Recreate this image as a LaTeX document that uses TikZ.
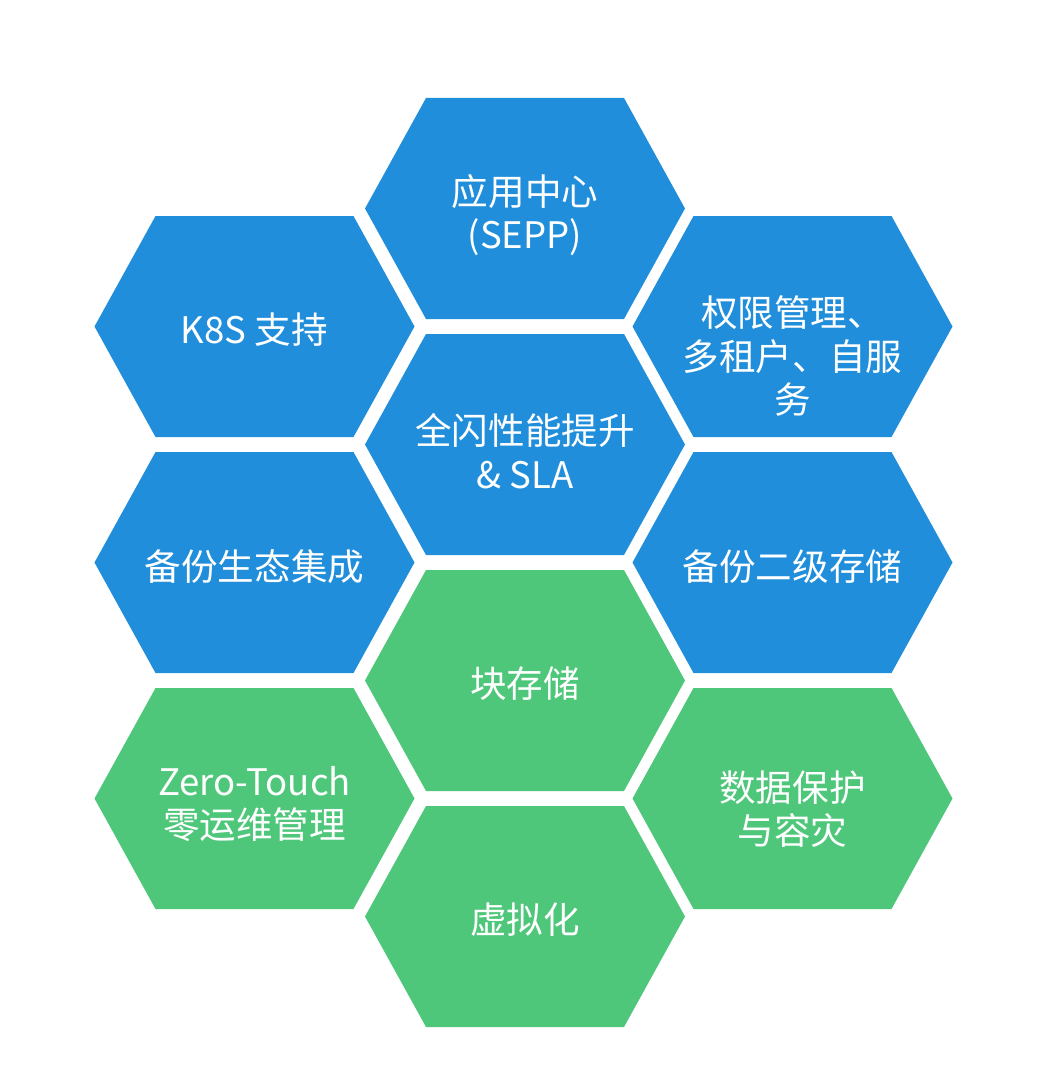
\documentclass[tikz,border=0pt]{standalone}
\usepackage{fontspec}
\setmainfont{Noto Sans CJK SC}
\usepackage{xcolor}
\usepackage{tikz}
\definecolor{cellblue}{HTML}{218EDB}
\definecolor{cellgreen}{HTML}{4FC77B}
\tikzset{
  lbl/.style={text=white,align=center,inner sep=0pt,font=\fontsize{26pt}{31pt}\selectfont},
}
\begin{document}
\begin{tikzpicture}[x=0.025cm,y=-0.025cm]
  \useasboundingbox (0,0) rectangle (1052,1090);
  % honeycomb: centre x / centre y / colour
  \foreach \x/\y/\c in {525/208.5/cellblue, 254.5/326.5/cellblue, 792.5/326.5/cellblue,
      525/444.5/cellblue, 254.5/562.5/cellblue, 792.5/562.5/cellblue,
      525/680.5/cellgreen, 254.5/798.5/cellgreen, 792.5/798.5/cellgreen, 525/916.5/cellgreen}
    \fill[\c] (\x-160,\y) -- (\x-99,\y-110.5) -- (\x+99,\y-110.5) -- (\x+160,\y)
      -- (\x+99,\y+110.5) -- (\x-99,\y+110.5) -- cycle;
  \node[lbl] (app) at (525,215) {应用中心\\(SEPP)};
  \node[lbl] (k8s) at (254.5,330) {K8S 支持};
  \node[lbl] (auth) at (792.5,356) {权限管理、\\多租户、自服\\务};
  \node[lbl] (flash) at (525,451) {全闪性能提升\\\& SLA};
  \node[lbl] (eco) at (254.5,567) {备份生态集成};
  \node[lbl] (tier) at (792.5,567) {备份二级存储};
  \node[lbl] (block) at (525,684) {块存储};
  \node[lbl] (zero) at (254.5,804) {Zero-Touch\\零运维管理};
  \node[lbl] (prot) at (792.5,809) {数据保护\\与容灾};
  \node[lbl] (virt) at (525,920) {虚拟化};
\end{tikzpicture}
\end{document}
